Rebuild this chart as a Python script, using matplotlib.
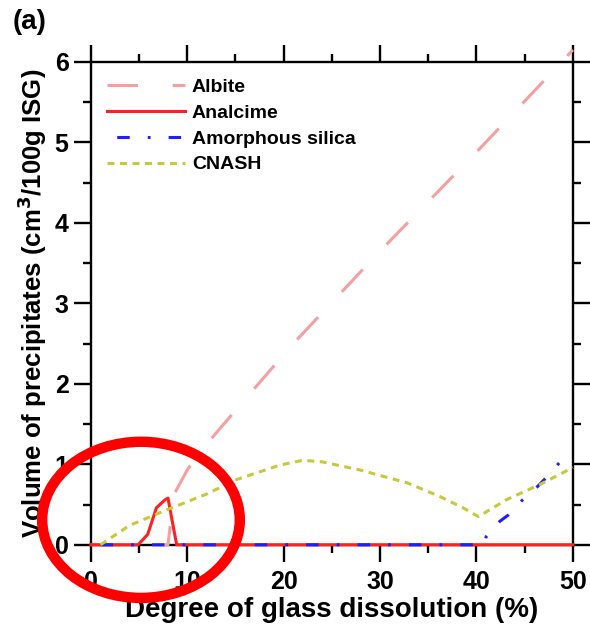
import matplotlib
matplotlib.use('Agg')
import matplotlib.pyplot as plt
from matplotlib.patches import Ellipse

plt.rcParams['font.family'] = ['Liberation Sans', 'DejaVu Sans']
plt.rcParams['font.weight'] = 'bold'
plt.rcParams['lines.scale_dashes'] = False

# Albite
albite_x = [0, 8.0, 8.6, 10.0, 12.0, 16.3, 21.0, 30.0, 40.0, 46.0, 50.0]
albite_y = [0, 0, 0.62, 0.93, 1.25, 1.85, 2.5, 3.65, 4.88, 5.64, 6.15]

# Analcime
analcime_x = [0, 4.9, 5.9, 6.8, 7.7, 8.0, 8.9, 50]
analcime_y = [0, 0, 0.13, 0.46, 0.56, 0.58, 0, 0]

# Amorphous silica
silica_x = [0, 40.8, 41.0, 42.4, 43.3, 44.8, 46.3, 47.2, 48.6]
silica_y = [0, 0, 0.1, 0.29, 0.37, 0.56, 0.72, 0.83, 1.02]

# CNASH
cnash_x = [1.0, 4.0, 8.0, 12.0, 15.1, 19.6, 22.0, 24.0, 27.9, 32.8, 36.2, 38.6, 40.2, 43.1, 46.6, 50.0]
cnash_y = [0.0, 0.24, 0.44, 0.63, 0.81, 0.99, 1.05, 1.03, 0.93, 0.77, 0.6, 0.46, 0.35, 0.56, 0.75, 0.96]

fig = plt.figure(figsize=(5.9, 6.32), dpi=100)
ax = fig.add_axes([0.154, 0.138, 0.817, 0.764])

lines_kw = dict(lw=2.2, zorder=3, clip_on=False)
ax.plot(albite_x, albite_y, color='#f4a0a0', ls=(0, (22, 25)), label='Albite', **lines_kw)
ax.plot(analcime_x, analcime_y, color='#ff2020', label='Analcime', **lines_kw)
ax.plot(silica_x, silica_y, color='#1e1eff', ls=(30, (9, 13, 2, 13)), label='Amorphous silica', **lines_kw)
ax.plot(cnash_x, cnash_y, color='#c8c83a', ls=(0, (5, 4)), label='CNASH', **lines_kw)

ax.set_xlim(0, 50)
ax.set_ylim(0, 6)
ax.set_xticks([0, 10, 20, 30, 40, 50])
ax.set_xticks([5, 15, 25, 35, 45], minor=True)
ax.set_yticks([0, 1, 2, 3, 4, 5, 6])
ax.set_yticks([0.5, 1.5, 2.5, 3.5, 4.5, 5.5], minor=True)
ax.tick_params(which='both', direction='out', top=True, right=True, width=1.7, labelsize=18)
ax.tick_params(which='major', length=12.5)
ax.tick_params(which='minor', length=6)
ax.tick_params(axis='x', pad=6)
ax.tick_params(labelright=False, labeltop=False)
for s in ax.spines.values():
	s.set_linewidth(1.7)

ax.set_xlabel('Degree of glass dissolution (%)', fontsize=20, fontweight='bold', labelpad=2)
ax.set_ylabel('Volume of precipitates (cm$^3$/100g ISG)', fontsize=18.5, fontweight='bold', labelpad=4)

ax.legend(loc='upper left', bbox_to_anchor=(0.0, 1.0), frameon=False, fontsize=14, handlelength=4.0,
	labelspacing=0.42, handletextpad=0.35, borderaxespad=0.45)

fig.text(0.022, 0.965, '(a)', fontsize=20, fontweight='bold', va='center')

ell = Ellipse((5.2, 0.31), 20.5, 1.94, fill=False, edgecolor='#ff0000', lw=7.5, clip_on=False, zorder=10)
ax.add_patch(ell)

fig.savefig('out.png', dpi=100)
